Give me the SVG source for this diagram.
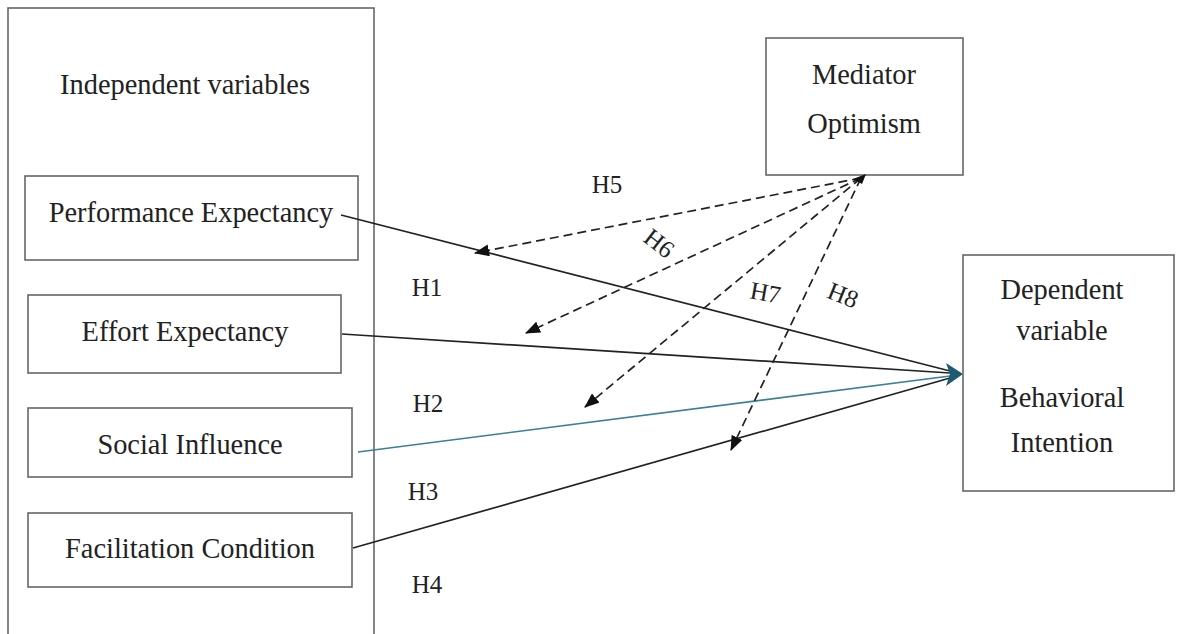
<svg xmlns="http://www.w3.org/2000/svg" width="1177" height="634" viewBox="0 0 1177 634">
<style>
.box{fill:none;stroke:#666;stroke-width:1.6}
.t{font-family:"Liberation Serif","Times New Roman",serif;font-size:28.4px;fill:#222}
.h{font-family:"Liberation Serif","Times New Roman",serif;font-size:25px;fill:#222}
.solid{stroke:#222;stroke-width:1.7;fill:none}
.dash{stroke:#222;stroke-width:1.7;fill:none;stroke-dasharray:9 5;marker-end:url(#ah)}
</style>
<defs>
<marker id="ah" viewBox="0 0 15 12" refX="14" refY="6" markerWidth="15" markerHeight="12" markerUnits="userSpaceOnUse" orient="auto">
<path d="M0,0 L15,6 L0,12 Z" fill="#111"/>
</marker>
</defs>
<rect width="1177" height="634" fill="#fff"/>
<g id="independent">
<rect class="box" x="8" y="8" width="366" height="640"/>
<text class="t" x="185" y="94" text-anchor="middle">Independent variables</text>
</g>
<g id="performance">
<rect class="box" x="25" y="176" width="333" height="84"/>
<text class="t" x="191" y="222" text-anchor="middle">Performance Expectancy</text>
</g>
<g id="effort">
<rect class="box" x="28" y="295" width="313" height="78"/>
<text class="t" x="185" y="341" text-anchor="middle">Effort Expectancy</text>
</g>
<g id="social">
<rect class="box" x="28" y="408" width="324" height="69"/>
<text class="t" x="190" y="454" text-anchor="middle">Social Influence</text>
</g>
<g id="facilitation">
<rect class="box" x="28" y="513" width="324" height="74"/>
<text class="t" x="190" y="558" text-anchor="middle">Facilitation Condition</text>
</g>
<g id="mediator">
<rect class="box" x="766" y="38" width="197" height="137"/>
<text class="t" x="864" y="84" text-anchor="middle">Mediator</text>
<text class="t" x="864" y="133" text-anchor="middle">Optimism</text>
</g>
<g id="dependent">
<rect class="box" x="963" y="255" width="211" height="236"/>
<text class="t" x="1062" y="299" text-anchor="middle">Dependent</text>
<text class="t" x="1062" y="340" text-anchor="middle">variable</text>
<text class="t" x="1062" y="407" text-anchor="middle">Behavioral</text>
<text class="t" x="1062" y="452" text-anchor="middle">Intention</text>
</g>
<g id="connectors">
<line class="solid" x1="341" y1="215" x2="950" y2="371"/>
<line class="solid" x1="342" y1="334" x2="950" y2="373"/>
<line x1="358" y1="452" x2="950" y2="376" stroke="#3b7f99" stroke-width="1.7"/>
<line class="solid" x1="353" y1="548" x2="950" y2="378"/>
<polygon points="963,374 946,363 950,374 946,386" fill="#1b5a73"/>
<line class="dash" x1="861" y1="178" x2="475" y2="253"/>
<line class="dash" x1="861" y1="178" x2="526" y2="333"/>
<line class="dash" x1="861" y1="178" x2="585" y2="407"/>
<line class="dash" x1="861" y1="178" x2="731" y2="450"/>
<polygon points="853,179 866,174 862,184" fill="#111"/>
</g>
<g id="labels">
<text class="h" x="607" y="193" text-anchor="middle">H5</text>
<text class="h" x="427" y="296" text-anchor="middle">H1</text>
<text class="h" x="428" y="412" text-anchor="middle">H2</text>
<text class="h" x="423" y="500" text-anchor="middle">H3</text>
<text class="h" x="427" y="593" text-anchor="middle">H4</text>
<text class="h" transform="translate(654,250) rotate(38)" text-anchor="middle">H6</text>
<text class="h" transform="translate(764,301) rotate(10)" text-anchor="middle">H7</text>
<text class="h" transform="translate(840,303) rotate(22)" text-anchor="middle">H8</text>
</g>
</svg>
